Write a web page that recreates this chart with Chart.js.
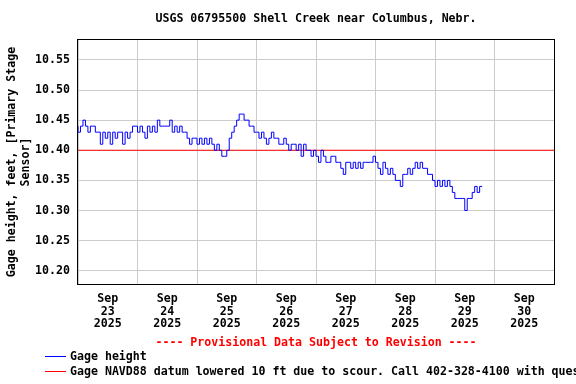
<!DOCTYPE html>
<html lang="en">
<head>
  <meta charset="UTF-8" />
  <title>USGS 06795500 Shell Creek near Columbus, Nebr.</title>
  <script src="https://cdn.jsdelivr.net/npm/chart.js"></script>
  <style>
    body { margin: 0; background: #fff; }
    canvas { display: block; }
  </style>
</head>
<body>
  <canvas id="chart" width="576" height="384"></canvas>

  <script>
    // hourly gage height readings from Sep 23 00:00
    const gageHeight = [
      10.44,10.43,10.44,10.45,10.44,10.43,10.44,10.44,10.43,10.43,10.41,10.43,10.42,10.43,10.41,10.43,10.42,10.43,10.43,10.41,10.43,10.42,10.43,10.44,
      10.44,10.43,10.44,10.43,10.42,10.44,10.43,10.44,10.43,10.45,10.44,10.44,10.44,10.44,10.45,10.43,10.44,10.43,10.44,10.43,10.43,10.42,10.41,10.42,
      10.42,10.41,10.42,10.41,10.42,10.41,10.42,10.41,10.40,10.41,10.40,10.39,10.39,10.40,10.42,10.43,10.44,10.45,10.46,10.46,10.45,10.45,10.44,10.44,
      10.43,10.43,10.42,10.43,10.42,10.41,10.42,10.43,10.42,10.42,10.41,10.41,10.42,10.41,10.40,10.41,10.41,10.40,10.41,10.39,10.41,10.40,10.40,10.39,
      10.40,10.39,10.38,10.40,10.39,10.38,10.38,10.39,10.39,10.38,10.38,10.37,10.36,10.38,10.38,10.37,10.38,10.37,10.38,10.37,10.38,10.38,10.38,10.38,
      10.39,10.38,10.37,10.36,10.38,10.37,10.36,10.37,10.36,10.35,10.35,10.34,10.36,10.36,10.37,10.36,10.37,10.38,10.37,10.38,10.37,10.37,10.36,10.36,
      10.35,10.34,10.35,10.34,10.35,10.34,10.35,10.34,10.33,10.32,10.32,10.32,10.32,10.30,10.32,10.32,10.33,10.34,10.33,10.34
    ];
    const datumLevel = 10.40;
    const dayLabels = ['23', '24', '25', '26', '27', '28', '29', '30'];
    const yTicks = [10.20, 10.25, 10.30, 10.35, 10.40, 10.45, 10.50, 10.55];

    const FONT = '"DejaVu Sans Mono", monospace';

    const gageData = gageHeight.map((v, i) => ({ x: i / 24, y: v }));
    const datumData = [{ x: 0, y: datumLevel }, { x: dayLabels.length, y: datumLevel }];

    // frame, title, provisional note and legend
    const extras = {
      id: 'extras',
      afterDraw(chart) {
        const { ctx, chartArea: a } = chart;
        const mid = (a.left + a.right) / 2;
        ctx.save();
        ctx.strokeStyle = '#000';
        ctx.lineWidth = 1;
        ctx.strokeRect(a.left - 0.5, a.top - 0.5, a.right - a.left + 1, a.bottom - a.top + 1);

        ctx.font = 'bold 11.6px ' + FONT;
        ctx.textBaseline = 'middle';
        ctx.textAlign = 'center';
        ctx.fillStyle = '#000';
        ctx.fillText('USGS 06795500 Shell Creek near Columbus, Nebr.', mid, 19);
        ctx.fillStyle = '#ff0000';
        ctx.fillText('---- Provisional Data Subject to Revision ----', mid, 343);

        ctx.textAlign = 'left';
        ctx.fillStyle = '#000';
        ctx.strokeStyle = '#0000ff';
        ctx.beginPath(); ctx.moveTo(45, 356.5); ctx.lineTo(66, 356.5); ctx.stroke();
        ctx.fillText('Gage height', 70, 357);
        ctx.strokeStyle = '#ff0000';
        ctx.beginPath(); ctx.moveTo(45, 371.5); ctx.lineTo(66, 371.5); ctx.stroke();
        ctx.fillText('Gage NAVD88 datum lowered 10 ft due to scour. Call 402-328-4100 with questions.', 70, 372);
        ctx.restore();
      }
    };

    new Chart(document.getElementById('chart'), {
      type: 'line',
      data: {
        datasets: [
          {
            label: 'Gage height',
            data: gageData,
            borderColor: '#0000ff',
            borderWidth: 1,
            stepped: 'after',
            pointRadius: 0,
            fill: false
          },
          {
            label: 'Gage NAVD88 datum',
            data: datumData,
            borderColor: '#ff0000',
            borderWidth: 1,
            pointRadius: 0,
            fill: false
          }
        ]
      },
      options: {
        responsive: false,
        animation: false,
        layout: { padding: { left: 0, right: 22, top: 40, bottom: 48 } },
        plugins: {
          legend: { display: false },
          tooltip: { enabled: false },
          title: { display: false }
        },
        scales: {
          x: {
            type: 'linear',
            min: 0,
            max: dayLabels.length,
            afterBuildTicks(scale) {
              const t = [];
              for (let i = 0; i <= dayLabels.length * 2; i++) t.push({ value: i / 2 });
              scale.ticks = t;
            },
            afterFit(scale) { scale.height = 52; },
            grid: {
              color: ctx => (ctx.tick && ctx.tick.value % 1 === 0) ? '#cccccc' : 'rgba(0,0,0,0)',
              drawTicks: false,
              lineWidth: 1
            },
            border: { display: false },
            ticks: {
              maxRotation: 0,
              autoSkip: false,
              padding: 8,
              color: '#000',
              font: { family: FONT, size: 11.6, weight: 'bold', lineHeight: 1.12 },
              callback(value) {
                if (value % 1 === 0) return '';
                const i = Math.floor(value);
                return ['Sep', dayLabels[i], '2025'];
              }
            }
          },
          y: {
            min: 10.178,
            max: 10.583,
            afterBuildTicks(scale) {
              scale.ticks = yTicks.map(v => ({ value: v }));
            },
            afterFit(scale) { scale.width = 78; },
            grid: { color: '#cccccc', drawTicks: false, lineWidth: 1 },
            border: { display: false },
            ticks: {
              padding: 8,
              color: '#000',
              font: { family: FONT, size: 11.6, weight: 'bold' },
              callback: v => v.toFixed(2)
            },
            title: {
              display: true,
              text: ['Gage height, feet, [Primary Stage', 'Sensor]'],
              color: '#000',
              font: { family: FONT, size: 11.6, weight: 'bold', lineHeight: 1.2 },
              padding: { top: 5, bottom: 0 }
            }
          }
        }
      },
      plugins: [extras]
    });
  </script>
</body>
</html>
